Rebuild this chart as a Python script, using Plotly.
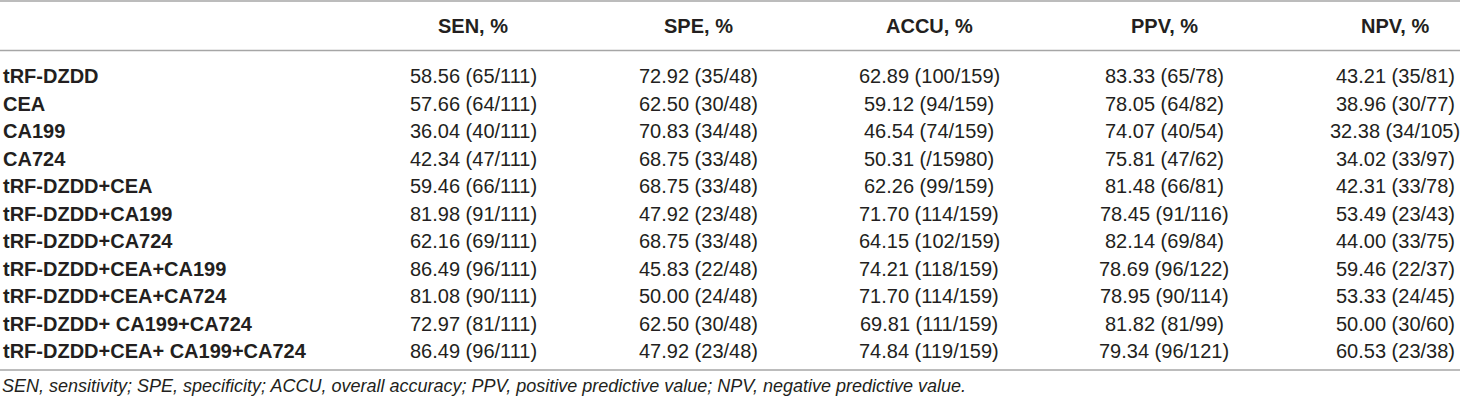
import plotly.graph_objects as go

# table content
markers = [
    "tRF-DZDD", "CEA", "CA199", "CA724", "tRF-DZDD+CEA", "tRF-DZDD+CA199",
    "tRF-DZDD+CA724", "tRF-DZDD+CEA+CA199", "tRF-DZDD+CEA+CA724",
    "tRF-DZDD+ CA199+CA724", "tRF-DZDD+CEA+ CA199+CA724",
]
columns = ["SEN, %", "SPE, %", "ACCU, %", "PPV, %", "NPV, %"]

sen = ["58.56 (65/111)", "57.66 (64/111)", "36.04 (40/111)", "42.34 (47/111)",
       "59.46 (66/111)", "81.98 (91/111)", "62.16 (69/111)", "86.49 (96/111)",
       "81.08 (90/111)", "72.97 (81/111)", "86.49 (96/111)"]
spe = ["72.92 (35/48)", "62.50 (30/48)", "70.83 (34/48)", "68.75 (33/48)",
       "68.75 (33/48)", "47.92 (23/48)", "68.75 (33/48)", "45.83 (22/48)",
       "50.00 (24/48)", "62.50 (30/48)", "47.92 (23/48)"]
accu = ["62.89 (100/159)", "59.12 (94/159)", "46.54 (74/159)", "50.31 (/15980)",
        "62.26 (99/159)", "71.70 (114/159)", "64.15 (102/159)", "74.21 (118/159)",
        "71.70 (114/159)", "69.81 (111/159)", "74.84 (119/159)"]
ppv = ["83.33 (65/78)", "78.05 (64/82)", "74.07 (40/54)", "75.81 (47/62)",
       "81.48 (66/81)", "78.45 (91/116)", "82.14 (69/84)", "78.69 (96/122)",
       "78.95 (90/114)", "81.82 (81/99)", "79.34 (96/121)"]
npv = ["43.21 (35/81)", "38.96 (30/77)", "32.38 (34/105)", "34.02 (33/97)",
       "42.31 (33/78)", "53.49 (23/43)", "44.00 (33/75)", "59.46 (22/37)",
       "53.33 (24/45)", "50.00 (30/60)", "60.53 (23/38)"]

footnote = ("SEN, sensitivity; SPE, specificity; ACCU, overall accuracy; "
            "PPV, positive predictive value; NPV, negative predictive value.")

W, H = 1460, 405
FONT = "Liberation Sans, Arial, Helvetica, sans-serif"
TEXT = "#231f20"
RULE = "#a6a6a6"

col_x = [473, 698, 929, 1164, 1395]   # column centres (px)
header_y = 26
row_y0, row_dy = 76, 27.5
rule_y = [1, 50.5, 370]
foot_y = 386

fig = go.Figure()
annotations = []

for cx, name in zip(col_x, columns):
    annotations.append(dict(x=cx, y=header_y, text=f"<b>{name}</b>",
                            xanchor="center", font=dict(size=20, color=TEXT)))

for i, m in enumerate(markers):
    y = row_y0 + i * row_dy
    annotations.append(dict(x=1, y=y, text=f"<b>{m}</b>", xanchor="left",
                            font=dict(size=20, color=TEXT)))
    for cx, vals in zip(col_x, [sen, spe, accu, ppv, npv]):
        annotations.append(dict(x=cx, y=y, text=vals[i], xanchor="center",
                                font=dict(size=20, color=TEXT)))

annotations.append(dict(x=0, y=foot_y, text=f"<i>{footnote}</i>", xanchor="left",
                        font=dict(size=18, color=TEXT)))

for a in annotations:
    a.update(xref="x", yref="y", yanchor="middle", showarrow=False)

shapes = [dict(type="line", xref="x", yref="y", x0=0, x1=W, y0=ry, y1=ry,
               line=dict(color=RULE, width=1.5)) for ry in rule_y]

fig.update_layout(
    width=W, height=H,
    margin=dict(l=0, r=0, t=0, b=0),
    paper_bgcolor="white", plot_bgcolor="white",
    font=dict(family=FONT),
    xaxis=dict(range=[0, W], visible=False, fixedrange=True),
    yaxis=dict(range=[H, 0], visible=False, fixedrange=True),
    annotations=annotations,
    shapes=shapes,
    showlegend=False,
)

# page body has a default 8px margin; drop it so the table sits flush
fig.write_html("out.html", config={"displayModeBar": False},
               post_script="document.body.style.margin='0';")
